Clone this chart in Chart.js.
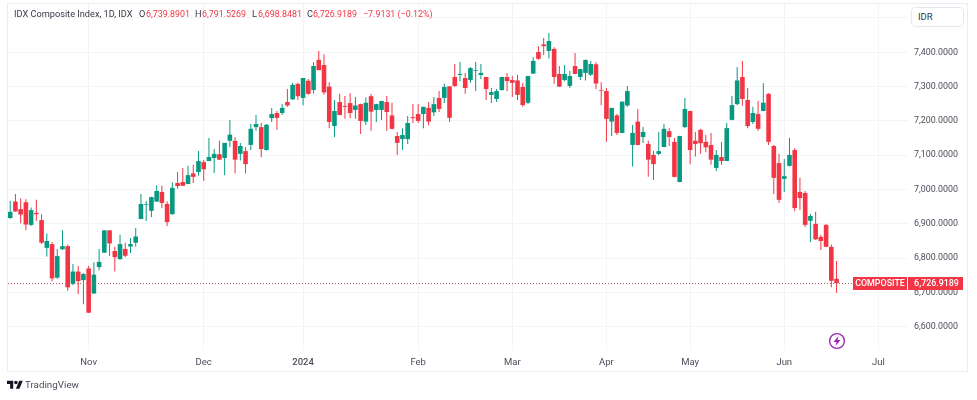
<!DOCTYPE html>
<html>
<head>
<meta charset="utf-8">
<title>IDX Composite Index</title>
<script src="https://cdn.jsdelivr.net/npm/chart.js@4"></script>
<style>
    body { margin: 0; background: #fff; font-family: Roboto, sans-serif; }
    #wrap { position: relative; width: 977px; height: 400px; overflow: hidden; }
    #frame { position: absolute; left: 7px; top: 3px; width: 959px; height: 367px; border: 1px solid #eceef4; box-sizing: content-box; }
    #grafico { position: absolute; left: 0; top: 0; }
    .txt { position: absolute; top: 8px; font-size: 8.9px; line-height: 12px; color: #f23645; white-space: nowrap; }
    .neg { color: #363a45; font-size: 9.2px; }
    #moneda { position: absolute; left: 911px; top: 7px; width: 53px; height: 20px; box-sizing: border-box; background: #fff; border: 1px solid #e6e9f0; border-radius: 4px; font-size: 9.5px; line-height: 18px; padding-left: 6px; color: #363a45; }
    #marca { position: absolute; left: 25px; top: 378px; font-size: 9.8px; line-height: 14px; color: #4a4e59; }
    #logo { position: absolute; left: 7px; top: 379px; }
    #rayo { position: absolute; left: 828px; top: 332px; }
</style>
</head>
<body>
<div id="wrap">
    <div id="frame"></div>
    <canvas id="grafico" width="977" height="400"></canvas>
    <span class="txt neg" style="left:14px">IDX Composite Index, 1D, IDX</span>
    <span class="txt neg" style="left:139px">O</span><span class="txt" style="left:146px">6,739.8901</span>
    <span class="txt neg" style="left:195px">H</span><span class="txt" style="left:202px">6,791.5269</span>
    <span class="txt neg" style="left:252px">L</span><span class="txt" style="left:258px">6,698.8481</span>
    <span class="txt neg" style="left:307px">C</span><span class="txt" style="left:313px">6,726.9189</span>
    <span class="txt" style="left:363px">−7.9131 (−0.12%)</span>
    <div id="moneda">IDR</div>
    <svg id="logo" width="16" height="12.5" viewBox="0 0 36 28"><path fill="#131722" d="M14 22H7V11H0V4h14v18zM28 22h-8l7.5-18h8L28 22z"/><circle fill="#131722" cx="20" cy="8" r="4"/></svg>
    <div id="marca">TradingView</div>
    <svg id="rayo" width="18" height="18" viewBox="0 0 18 18"><circle cx="9" cy="9" r="7.4" fill="#fff" stroke="#9c27b0" stroke-width="1.4"/><path fill="#9c27b0" d="M10.5 4 5.5 10h3l-1 4 5-6h-3z"/></svg>
</div>
<script>
const opens = [
    6917, 6965, 6943, 6963, 6897, 6932, 6911, 6830, 6841, 6743,
    6826, 6835, 6725, 6761, 6736, 6770, 6697, 6774, 6816, 6881,
    6821, 6797, 6827, 6834, 6845, 6914, 6956, 6938, 6965, 6993,
    6958, 6928, 7019, 7022, 7016, 7047, 7051, 7080, 7083, 7092,
    7103, 7092, 7142, 7142, 7104, 7112, 7130, 7182, 7182, 7115,
    7208, 7223, 7223, 7255, 7263, 7308, 7267, 7317, 7290, 7378,
    7363, 7300, 7185, 7255, 7244, 7252, 7232, 7249, 7198, 7272,
    7232, 7232, 7255, 7216, 7156, 7147, 7147, 7211, 7220, 7220,
    7238, 7225, 7267, 7267, 7301, 7328, 7334, 7325, 7319, 7346,
    7334, 7328, 7276, 7264, 7290, 7328, 7319, 7318, 7299, 7253,
    7338, 7401, 7423, 7404, 7410, 7337, 7319, 7302, 7360, 7328,
    7340, 7335, 7365, 7290, 7287, 7198, 7216, 7165, 7245, 7130,
    7198, 7153, 7133, 7101, 7104, 7124, 7170, 7139, 7022, 7182,
    7229, 7142, 7174, 7139, 7130, 7063, 7095, 7083, 7203, 7249,
    7328, 7261, 7197, 7220, 7229, 7279, 7127, 7077, 7031, 7069,
    7115, 6993, 6990, 6909, 6900, 6862, 6897, 6833, 6739.8901
];
const highs = [
    6967, 6987, 6974, 6972, 6948, 6970, 6928, 6872, 6847, 6827,
    6881, 6840, 6783, 6777, 6756, 6777, 6788, 6827, 6882, 6882,
    6833, 6868, 6845, 6859, 6888, 6987, 6966, 6979, 7012, 7012,
    6966, 7021, 7051, 7063, 7069, 7072, 7112, 7086, 7150, 7118,
    7142, 7136, 7203, 7153, 7136, 7124, 7191, 7217, 7194, 7190,
    7238, 7229, 7249, 7293, 7311, 7311, 7325, 7322, 7372, 7404,
    7394, 7313, 7261, 7279, 7273, 7281, 7270, 7250, 7268, 7279,
    7250, 7259, 7273, 7253, 7168, 7179, 7214, 7249, 7249, 7241,
    7255, 7270, 7287, 7308, 7301, 7366, 7372, 7340, 7357, 7372,
    7366, 7329, 7296, 7293, 7329, 7340, 7331, 7334, 7311, 7332,
    7386, 7418, 7442, 7456, 7415, 7360, 7363, 7346, 7398, 7352,
    7378, 7375, 7371, 7313, 7296, 7238, 7220, 7257, 7302, 7188,
    7235, 7182, 7142, 7112, 7168, 7191, 7179, 7150, 7157, 7267,
    7230, 7168, 7177, 7160, 7165, 7115, 7139, 7194, 7273, 7357,
    7375, 7296, 7241, 7258, 7310, 7281, 7130, 7104, 7089, 7150,
    7121, 7034, 6996, 6929, 6935, 6868, 6899, 6840, 6791.5269
];
const lows = [
    6915, 6935, 6902, 6881, 6894, 6909, 6841, 6805, 6732, 6740,
    6824, 6705, 6721, 6695, 6666, 6641, 6696, 6765, 6815, 6806,
    6761, 6796, 6803, 6815, 6833, 6914, 6908, 6920, 6964, 6946,
    6894, 6927, 7002, 7010, 7016, 7019, 7040, 7025, 7083, 7048,
    7086, 7042, 7124, 7047, 7085, 7047, 7115, 7171, 7094, 7114,
    7197, 7174, 7217, 7241, 7261, 7261, 7246, 7276, 7280, 7348,
    7276, 7179, 7153, 7217, 7206, 7208, 7206, 7162, 7188, 7171,
    7197, 7203, 7171, 7176, 7101, 7115, 7133, 7194, 7194, 7179,
    7187, 7214, 7226, 7252, 7197, 7299, 7316, 7279, 7311, 7287,
    7322, 7261, 7252, 7255, 7288, 7287, 7270, 7261, 7241, 7249,
    7337, 7378, 7392, 7382, 7308, 7299, 7316, 7296, 7336, 7319,
    7318, 7331, 7293, 7246, 7139, 7156, 7159, 7164, 7241, 7067,
    7129, 7136, 7037, 7028, 7101, 7123, 7127, 7036, 7021, 7179,
    7074, 7096, 7104, 7109, 7072, 7054, 7072, 7083, 7202, 7246,
    7244, 7179, 7191, 7171, 7228, 7130, 6987, 6961, 6993, 7067,
    6937, 6940, 6891, 6847, 6853, 6824, 6832, 6715, 6698.8481
];
const closes = [
    6935, 6936, 6927, 6898, 6940, 6928, 6845, 6850, 6741, 6806,
    6835, 6715, 6761, 6733, 6754, 6641, 6752, 6789, 6881, 6843,
    6803, 6841, 6807, 6841, 6863, 6958, 6958, 6978, 6996, 6961,
    6905, 7005, 7010, 7011, 7042, 7037, 7083, 7059, 7095, 7104,
    7087, 7136, 7160, 7087, 7127, 7074, 7177, 7191, 7118, 7189,
    7220, 7209, 7238, 7245, 7305, 7272, 7325, 7279, 7360, 7348,
    7283, 7197, 7229, 7217, 7241, 7223, 7245, 7200, 7253, 7227,
    7249, 7258, 7226, 7177, 7136, 7159, 7194, 7208, 7200, 7241,
    7198, 7249, 7235, 7299, 7209, 7302, 7337, 7296, 7354, 7348,
    7340, 7293, 7284, 7287, 7328, 7316, 7311, 7276, 7246, 7331,
    7375, 7381, 7418, 7433, 7328, 7300, 7337, 7331, 7337, 7351,
    7378, 7366, 7309, 7288, 7206, 7238, 7165, 7256, 7287, 7165,
    7130, 7168, 7087, 7074, 7112, 7177, 7153, 7037, 7156, 7235,
    7115, 7133, 7135, 7123, 7087, 7101, 7083, 7179, 7246, 7318,
    7264, 7185, 7223, 7177, 7253, 7139, 7034, 6970, 7039, 7101,
    6946, 6975, 6897, 6923, 6855, 6850, 6833, 6734, 6726.9189
];
const monthLabels = ['Nov', 'Dec', '2024', 'Feb', 'Mar', 'Apr', 'May', 'Jun', 'Jul'];
const monthBars = [15, 37, 56, 78, 96, 114, 130, 148, 166];
const priceTicks = [6600, 6700, 6800, 6900, 7000, 7100, 7200, 7300, 7400, 7500];

const UP = '#089981';
const DOWN = '#f23645';
const GRID = '#f3f4f7';
const AXIS_FONT = 'Roboto, sans-serif';

const barColors = closes.map((c, i) => c >= opens[i] ? UP : DOWN);

function formatPrice(v) {
    return v.toLocaleString('en-US', { minimumFractionDigits: 4, maximumFractionDigits: 4 });
}

// last price line and its two tags on the axis
const lastPricePlugin = {
    id: 'lastPrice',
    afterDraw(chart) {
        const ctx = chart.ctx;
        const last = closes[closes.length - 1];
        const y = chart.scales.y.getPixelForValue(last);
        ctx.save();
        ctx.strokeStyle = '#c4586a';
        ctx.lineWidth = 1;
        ctx.setLineDash([1, 2]);
        ctx.beginPath();
        ctx.moveTo(chart.chartArea.left, Math.round(y) + 0.5);
        ctx.lineTo(853, Math.round(y) + 0.5);
        ctx.stroke();
        ctx.setLineDash([]);
        ctx.fillStyle = DOWN;
        ctx.fillRect(853, Math.round(y) - 6, 54, 13);
        ctx.fillRect(908, Math.round(y) - 6, 55, 13);
        ctx.fillStyle = '#fff';
        ctx.font = '500 8.9px ' + AXIS_FONT;
        ctx.textBaseline = 'middle';
        ctx.textAlign = 'center';
        ctx.fillText('COMPOSITE', 880, Math.round(y) + 0.5);
        ctx.fillText(formatPrice(last), 936.5, Math.round(y) + 0.5);
        ctx.restore();
    }
};

new Chart(document.getElementById('grafico').getContext('2d'), {
    type: 'bar',
    data: {
        datasets: [
            {
                label: 'wick',
                data: closes.map((c, i) => ({ x: i, y: [lows[i], highs[i]] })),
                backgroundColor: barColors,
                barThickness: 1,
                inflateAmount: 0,
                grouped: false
            },
            {
                label: 'body',
                data: closes.map((c, i) => ({ x: i, y: [opens[i], c] })),
                backgroundColor: barColors,
                barThickness: 4.6,
                inflateAmount: 0,
                grouped: false
            }
        ]
    },
    plugins: [lastPricePlugin],
    options: {
        responsive: false,
        animation: false,
        events: [],
        layout: { padding: { left: 8, top: 4, right: 10, bottom: 28 } },
        plugins: { legend: { display: false }, tooltip: { enabled: false } },
        scales: {
            x: {
                type: 'linear',
                offset: false,
                min: -0.42,
                max: 171.66,
                border: { display: false },
                grid: { color: GRID, offset: false, drawTicks: false },
                afterBuildTicks(axis) {
                    axis.ticks = monthBars.map(v => ({ value: v }));
                },
                afterFit(axis) {
                    axis.height = 22;
                    axis.paddingLeft = 0;
                    axis.paddingRight = 0;
                },
                ticks: {
                    autoSkip: false,
                    maxRotation: 0,
                    padding: 7,
                    color: '#4a4e59',
                    font: ctx => ({
                        family: AXIS_FONT,
                        size: 9.5,
                        weight: ctx.tick && monthLabels[monthBars.indexOf(ctx.tick.value)] === '2024' ? '500' : 'normal'
                    }),
                    callback: v => monthLabels[monthBars.indexOf(v)]
                }
            },
            y: {
                position: 'right',
                min: 6532.3,
                max: 7540.8,
                border: { display: false },
                grid: { color: GRID, drawTicks: false },
                afterBuildTicks(axis) {
                    axis.ticks = priceTicks.map(v => ({ value: v }));
                },
                afterFit(axis) {
                    axis.width = 59;
                    axis.paddingTop = 0;
                    axis.paddingBottom = 0;
                },
                ticks: {
                    padding: 6,
                    color: '#4a4e59',
                    font: { family: AXIS_FONT, size: 8.9 },
                    callback: v => formatPrice(v)
                }
            }
        }
    }
});
</script>
</body>
</html>
